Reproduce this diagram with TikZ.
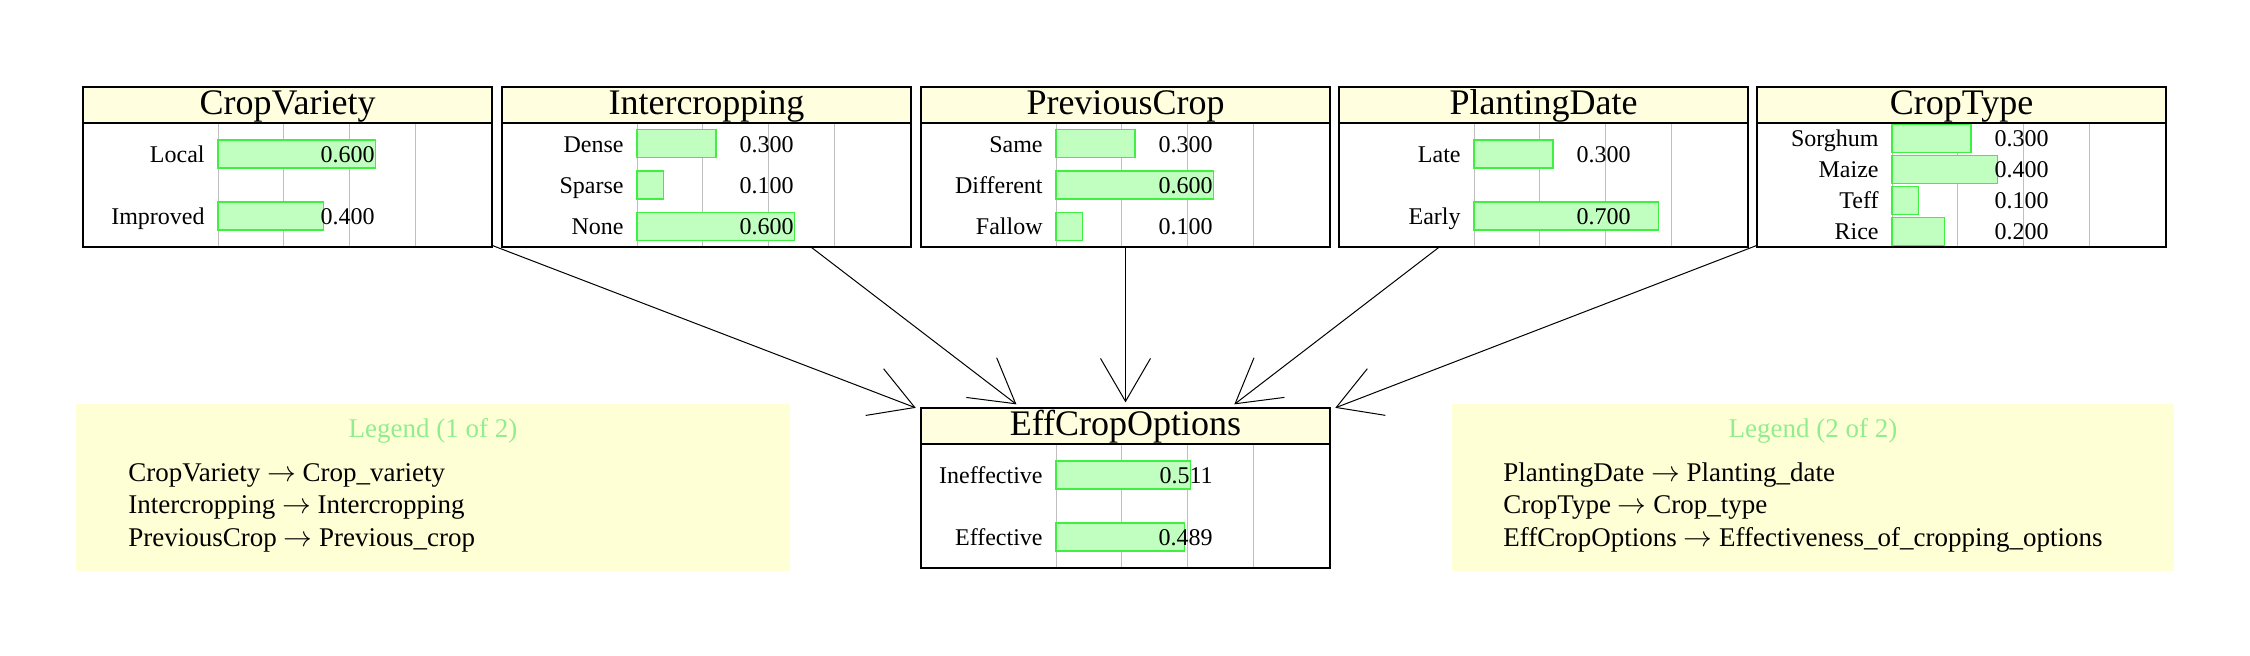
\documentclass[tikz,border=0pt]{standalone}
\usepackage{fontspec}
\setmainfont{Liberation Serif}
\usetikzlibrary{arrows.meta}
\definecolor{titlebg}{HTML}{FFFFE0}
\definecolor{legendbg}{HTML}{FFFFD6}
\definecolor{barfill}{HTML}{C0FFC0}
\definecolor{barline}{HTML}{40F040}
\definecolor{legendtitle}{HTML}{90EE90}
% #1 name, #2 left, #3 top, #4 title, #5 number of states, #6 states
\newcommand{\bnode}[6]{%
  \fill[titlebg] (#2,#3) rectangle ++(409,36);
  \draw[gridline] \foreach \k in {0,...,3} {(#2+135+65.75*\k,#3+36) -- ++(0,124)};
  \foreach \s/\p [count=\i] in {#6} {
    \pgfmathsetmacro\yy{#3+36+124/#5*(\i-0.5)}
    \draw[bar] (#2+135,\yy-14) rectangle ++(263*\p,28);
    \node[state] (#1s\i) at (#2+122,\yy+8.5) {\s};
    \node[state] (#1v\i) at (#2+292,\yy+8.5) {\p};
  }
  \node[title] (#1t) at (#2+204.5,#3+28) {#4};
  \draw[line width=0.6pt] (#2,#3+36) -- ++(409,0);
  \node[bn] (#1) at (#2+204.5,#3+80) {};
}
\newcommand{\maps}{ $\rightarrow$ }
\begin{document}
\begin{tikzpicture}[x=0.5pt,y=-0.5pt,
  bn/.style={draw,line width=0.6pt,minimum width=204.5pt,minimum height=80pt,inner sep=0},
  title/.style={anchor=base,inner sep=0,font=\fontsize{18}{20}\selectfont},
  state/.style={anchor=base east,inner sep=0,font=\fontsize{12}{14}\selectfont},
  gridline/.style={draw=black!25,line width=0.5pt},
  bar/.style={fill=barfill,draw=barline,line width=0.6pt},
  arr/.style={-{Straight Barb[length=21.5pt,width=25pt]},line width=0.5pt,shorten >=2.5pt},
  legend/.style={fill=legendbg,inner sep=0,minimum height=83.5pt},
  legtitle/.style={anchor=base,inner sep=0,text=legendtitle,font=\fontsize{13.5}{16}\selectfont},
  legline/.style={anchor=base west,inner sep=0,font=\fontsize{13.5}{16}\selectfont}]
\useasboundingbox (0,0) rectangle (2250,656);
\bnode{cv}{83}{87}{CropVariety}{2}{Local/0.600,Improved/0.400}
\bnode{ic}{502}{87}{Intercropping}{3}{Dense/0.300,Sparse/0.100,None/0.600}
\bnode{pc}{921}{87}{PreviousCrop}{3}{Same/0.300,Different/0.600,Fallow/0.100}
\bnode{pd}{1339}{87}{PlantingDate}{2}{Late/0.300,Early/0.700}
\bnode{ct}{1757}{87}{CropType}{4}{Sorghum/0.300,Maize/0.400,Teff/0.100,Rice/0.200}
\bnode{eff}{921}{408}{EffCropOptions}{2}{Ineffective/0.511,Effective/0.489}
% legends
\node[legend,minimum width=357pt] (leg1) at (433,487.5) {};
\node[legtitle] (leg1t) at (433,438) {Legend (1 of 2)};
\node[legline] (leg1a) at (128,482) {CropVariety\maps Crop\_variety};
\node[legline] (leg1b) at (128,514) {Intercropping\maps Intercropping};
\node[legline] (leg1c) at (128,547) {PreviousCrop\maps Previous\_crop};
\node[legend,minimum width=361pt] (leg2) at (1813,487.5) {};
\node[legtitle] (leg2t) at (1813,438) {Legend (2 of 2)};
\node[legline] (leg2a) at (1503,482) {PlantingDate\maps Planting\_date};
\node[legline] (leg2b) at (1503,514) {CropType\maps Crop\_type};
\node[legline] (leg2c) at (1503,547) {EffCropOptions\maps Effectiveness\_of\_cropping\_options};
% links
\foreach \n in {cv,ic,pc,pd,ct}
  \draw[arr] (\n) -- (eff);
\end{tikzpicture}
\end{document}
